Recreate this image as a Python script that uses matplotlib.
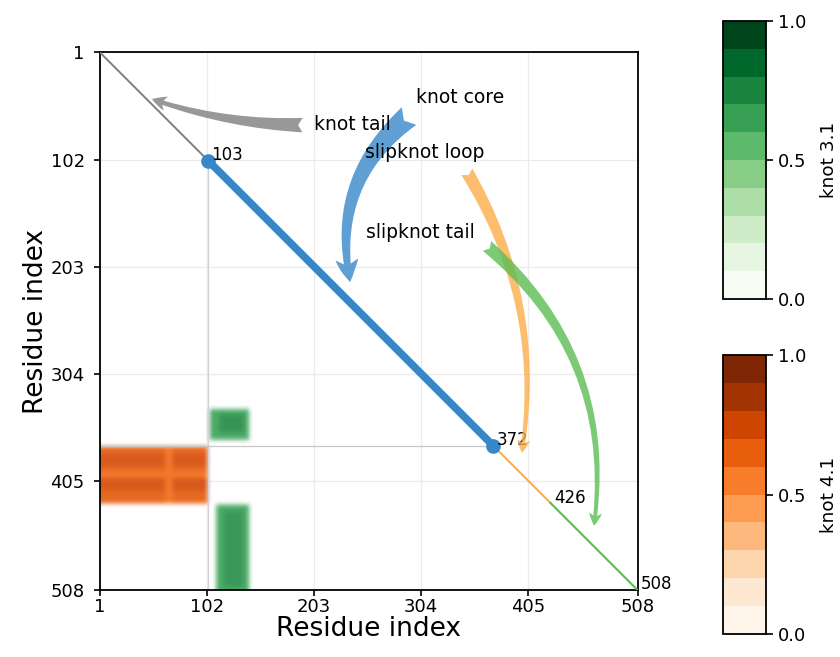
import numpy as np
import matplotlib
matplotlib.use("Agg")
import matplotlib.pyplot as plt
from matplotlib.colors import Normalize
from matplotlib.cm import ScalarMappable

# ---------------- data ----------------
n_res = 508
tick_values = [1, 102, 203, 304, 405, 508]
tick_labels = ["1", "102", "203", "304", "405", "508"]

# chain segments along the diagonal: (start, end)
tail_seg = (1, 103)
core_seg = (103, 372)
loop_seg = (372, 426)
stail_seg = (426, 508)
marked_points = [103, 372]
point_labels = [103, 372, 426, 508]

# knot probability blocks: (x0, x1, y0, y1, probability)
knot41_blocks = [
    (1, 102, 373, 426, 0.68),
    (1, 102, 380, 391, 0.76),
    (1, 102, 404, 414, 0.76),
    (63, 69, 373, 426, 0.62),
    (1, 102, 397, 401, 0.62),
]
knot31_blocks = [
    (105, 141, 338, 366, 0.66),
    (114, 136, 343, 359, 0.76),
    (111, 141, 428, 508, 0.66),
    (118, 135, 434, 505, 0.74),
]

annotations = ["knot tail", "knot core", "slipknot loop", "slipknot tail"]
text_pos = [(239, 69), (341, 43), (307, 95), (303, 171)]
arrow_start = [(192, 69.5), (292.5, 61), (347, 113.5), (366, 183.5)]
arrow_tip = [(50, 45), (237, 217.5), (399, 378.5), (467, 447.5)]
arrow_rad = [-0.08, 0.3, -0.18, -0.27]
arrow_scale = [26, 41, 23, 23]

# ---------------- colours ----------------
c_gray = "#7f7f7f"
c_blue = "#3787c9"
c_orange = "#fcae4a"
c_green = "#5cbd54"
arrow_colors = [c_gray, c_blue, c_orange, c_green]

cmap31 = plt.get_cmap("Greens", 10)
cmap41 = plt.get_cmap("Oranges", 10)
cmap31c = plt.get_cmap("Greens")
cmap41c = plt.get_cmap("Oranges")

plt.rcParams["font.family"] = ["DejaVu Sans"]

fig = plt.figure(figsize=(8.4, 6.57), dpi=100)
ax = fig.add_axes([100 / 840, 1 - 590 / 657, 537.5 / 840, 537.5 / 657])


def box_blur(a, r):
    p = np.pad(a, ((r, r), (r, r), (0, 0)), mode="edge")
    c = np.cumsum(np.cumsum(p, axis=0), axis=1)
    c = np.pad(c, ((1, 0), (1, 0), (0, 0)))
    k = 2 * r + 1
    s = c[k:, k:] - c[:-k, k:] - c[k:, :-k] + c[:-k, :-k]
    return s / (k * k)


# probability map image (premultiplied, softened edges)
img = np.zeros((n_res, n_res, 4))
for blocks, cm in ((knot41_blocks, cmap41c), (knot31_blocks, cmap31c)):
    for x0, x1, y0, y1, p in blocks:
        img[y0 - 1:y1, x0 - 1:x1, :] = cm(p)
        img[y0 - 1:y1, x0 - 1:x1, 3] = 0.9
img[..., :3] *= img[..., 3:4]
img = box_blur(box_blur(img, 2), 2)
alpha = img[..., 3:4]
img[..., :3] = np.where(alpha > 1e-6, img[..., :3] / np.maximum(alpha, 1e-6), 0)
img = np.clip(img, 0, 1)
ax.imshow(img, extent=(0.5, n_res + 0.5, n_res + 0.5, 0.5),
          interpolation="bilinear", zorder=1, aspect="auto")

# reference lines
ax.plot([core_seg[0], core_seg[0]], [core_seg[0], n_res], color="#d2d2d2", lw=0.9, zorder=2)
ax.plot([1, core_seg[1]], [core_seg[1], core_seg[1]], color="#c8c8c8", lw=0.9, zorder=2)

# diagonal segments
ax.plot(tail_seg, tail_seg, color=c_gray, lw=1.4, zorder=3)
ax.plot(core_seg, core_seg, color=c_blue, lw=5.5, zorder=4, solid_capstyle="butt")
ax.plot(loop_seg, loop_seg, color=c_orange, lw=1.5, zorder=3)
ax.plot(stail_seg, stail_seg, color=c_green, lw=1.5, zorder=3)
ax.plot(marked_points, marked_points, "o", color=c_blue, ms=9.5, zorder=5)

for p in point_labels:
    ax.annotate(str(p), (p, p), xytext=(2.5, 4), textcoords="offset points",
                ha="left", va="center", fontsize=12, zorder=6,
                annotation_clip=False)

for txt, tp, st, tip, rad, ms, col in zip(annotations, text_pos, arrow_start,
                                           arrow_tip, arrow_rad, arrow_scale,
                                           arrow_colors):
    ax.annotate("", xy=tip, xytext=st, zorder=6,
                arrowprops=dict(arrowstyle="fancy", connectionstyle=f"arc3,rad={rad}",
                                color=col, alpha=0.8, lw=0, mutation_scale=ms,
                                shrinkA=0, shrinkB=0))
    ax.text(tp[0], tp[1], txt, fontsize=13.5, ha="center", va="center", zorder=7)

ax.set_xlim(1, n_res)
ax.set_ylim(n_res, 1)
ax.set_xticks(tick_values)
ax.set_xticklabels(tick_labels)
ax.set_yticks(tick_values)
ax.set_yticklabels(tick_labels)
ax.grid(True, color="#ebebeb", lw=0.9, zorder=0)
ax.set_axisbelow(True)
ax.tick_params(direction="out", length=4, width=1.2, labelsize=13)
ax.tick_params(axis="x", pad=1.5)
ax.tick_params(axis="y", pad=7)
for s in ax.spines.values():
    s.set_linewidth(1.3)
ax.set_xlabel("Residue index", fontsize=19, labelpad=0)
ax.set_ylabel("Residue index", fontsize=19, labelpad=1)

# colorbars
cax1 = fig.add_axes([723 / 840, 1 - 299 / 657, 43 / 840, 278 / 657])
cax2 = fig.add_axes([723 / 840, 1 - 634 / 657, 43 / 840, 279 / 657])
for cax, cm, lab in ((cax1, cmap31, "knot 3.1"), (cax2, cmap41, "knot 4.1")):
    cb = fig.colorbar(ScalarMappable(norm=Normalize(0, 1), cmap=cm), cax=cax)
    cb.set_ticks([0.0, 0.5, 1.0])
    cb.set_ticklabels(["0.0", "0.5", "1.0"])
    cb.outline.set_linewidth(1.3)
    cax.tick_params(labelsize=13, length=5, width=1.2)
    cb.set_label(lab, fontsize=13.3, labelpad=10)

fig.savefig("out.png", dpi=100)
